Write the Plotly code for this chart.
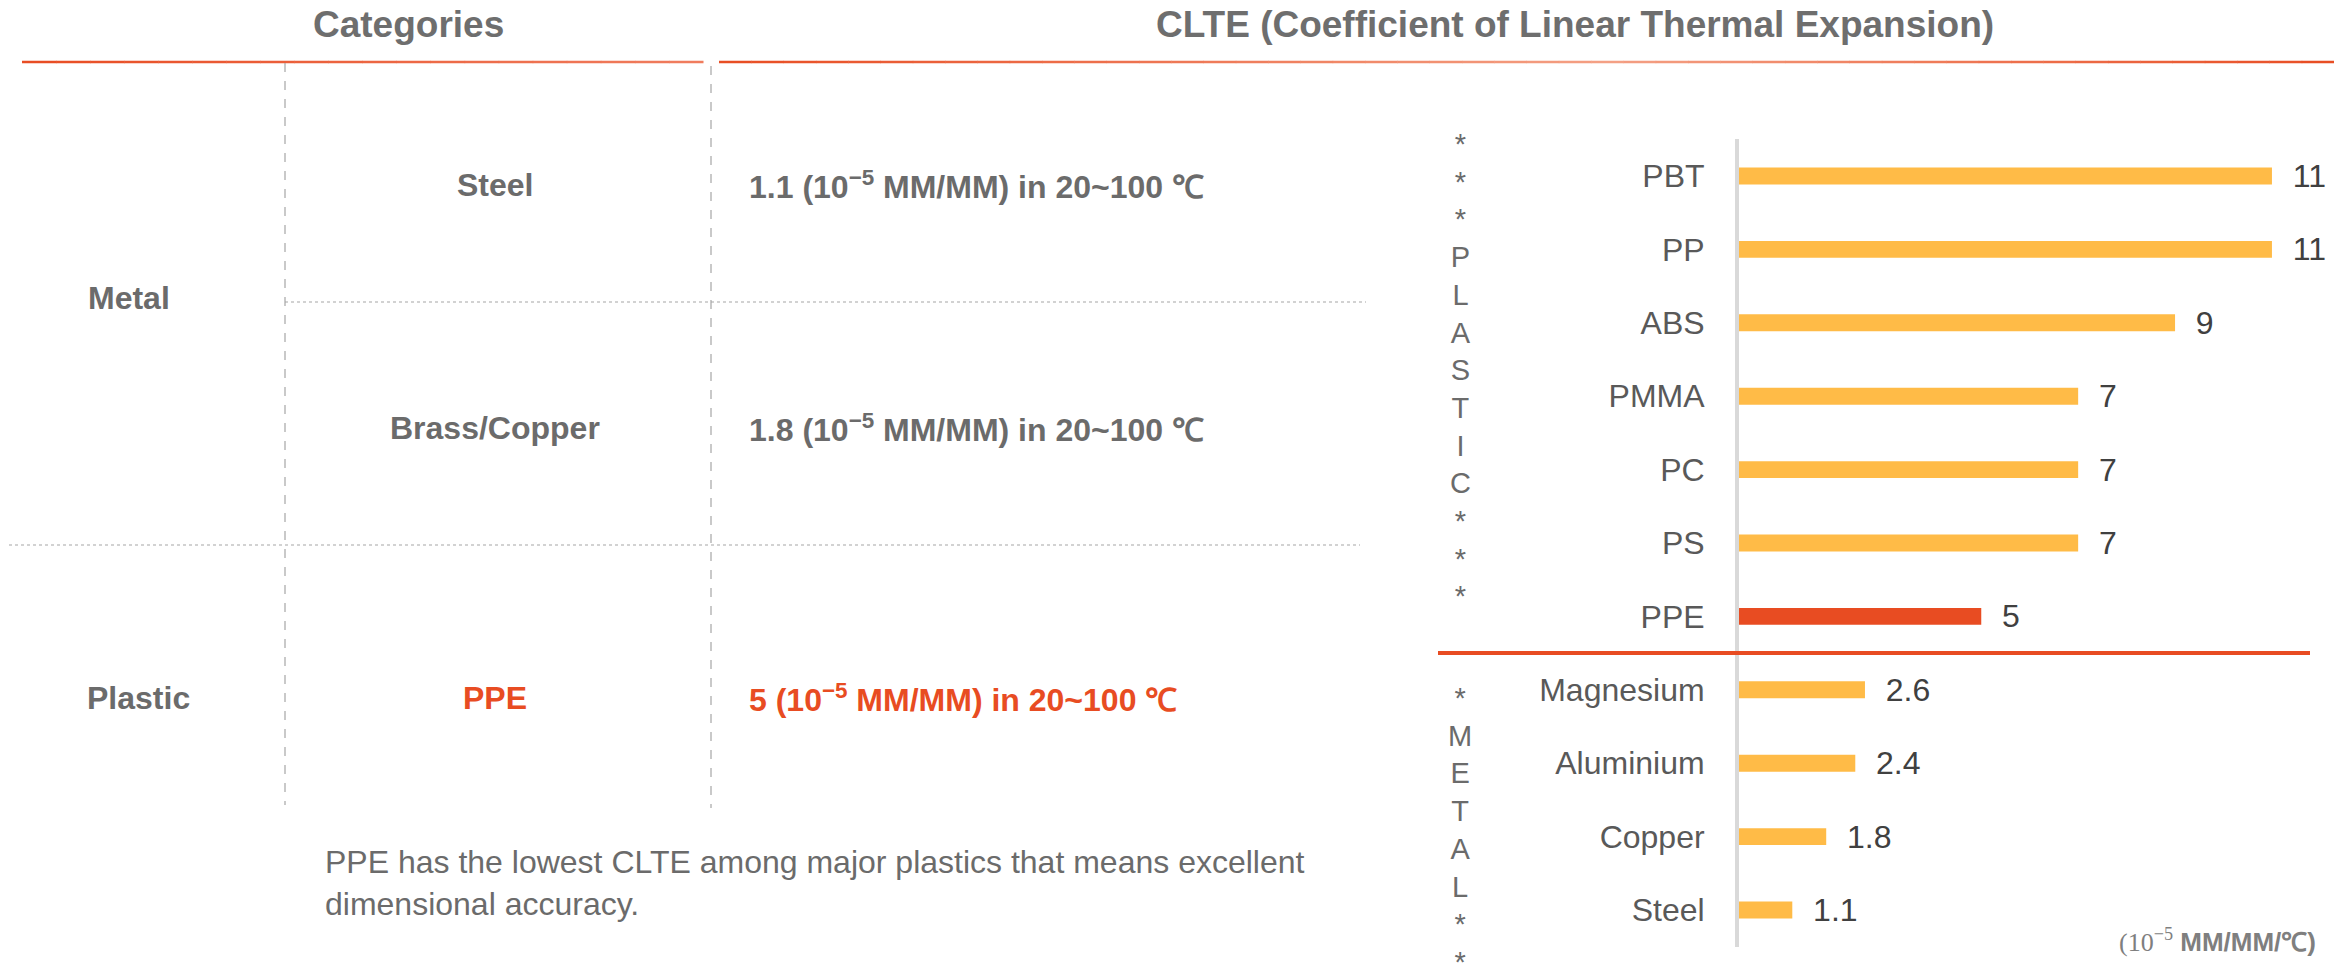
import plotly.graph_objects as go

# ---------------- data ----------------
headers = ["Categories", "CLTE (Coefficient of Linear Thermal Expansion)"]
group_names = ["Metal", "Plastic"]
table_materials = ["Steel", "Brass/Copper", "PPE"]
table_values = [1.1, 1.8, 5]
note_text = ("PPE has the lowest CLTE among major plastics that means excellent<br>"
             "dimensional accuracy.")

chart_materials = ["PBT", "PP", "ABS", "PMMA", "PC", "PS", "PPE",
                   "Magnesium", "Aluminium", "Copper", "Steel"]
chart_values = [11, 11, 9, 7, 7, 7, 5, 2.6, 2.4, 1.8, 1.1]
highlight = "PPE"
side_labels = ["***PLASTIC***", "*METAL**"]

# ---------------- style ----------------
W, H = 2334, 966
RED = "#E84C22"
YELLOW = "#FFBB47"
GRAY = "#6B6B6B"
FONT = "Arial, Liberation Sans, sans-serif"


def px(x):
    return x / W


def py(y):
    return 1 - y / H


fig = go.Figure()

# bar chart
colors = [RED if m == highlight else YELLOW for m in chart_materials]
fig.add_trace(go.Bar(
    x=chart_values, y=chart_materials, orientation="h",
    marker=dict(color=colors, line=dict(width=0)),
    width=0.23,
    text=["\u00a0\u00a0" + f"{v:g}" for v in chart_values],
    textposition="outside", constraintext="none", cliponaxis=False,
    textfont=dict(family=FONT, size=32, color="#404040"),
    hoverinfo="skip",
))

x0_px = 1739
unit_px = 48.45
fig.update_xaxes(domain=[px(x0_px), 1.0], range=[0, (W - x0_px) / unit_px],
                 visible=False, fixedrange=True)
fig.update_yaxes(domain=[py(946.7), py(139.3)], type="category",
                 categoryarray=chart_materials, autorange="reversed",
                 showline=True, linecolor="#D9D9D9", linewidth=4,
                 showgrid=False, zeroline=False, ticks="",
                 ticklabelstandoff=24, fixedrange=True,
                 tickfont=dict(family=FONT, size=32, color="#595959"))

shapes = []
# separator between plastics and metals
sep = chart_materials.index(highlight) + 0.5
shapes.append(dict(type="line", xref="paper", yref="y",
                   x0=px(1438), x1=px(2310), y0=sep, y1=sep,
                   line=dict(color=RED, width=4)))


# header gradient lines
def lerp(c0, c1, t):
    return tuple(round(a + (b - a) * t) for a, b in zip(c0, c1))


def grad_line(xa, xb, y, stops, n=40):
    for i in range(n):
        t0, t1 = i / n, (i + 1) / n
        tm = (t0 + t1) / 2
        for j in range(len(stops) - 1):
            if stops[j][0] <= tm <= stops[j + 1][0]:
                s0, s1 = stops[j], stops[j + 1]
                c = lerp(s0[1], s1[1], (tm - s0[0]) / (s1[0] - s0[0]))
                break
        shapes.append(dict(type="line", xref="paper", yref="paper",
                           x0=px(xa + (xb - xa) * t0), x1=px(xa + (xb - xa) * t1 + 0.5),
                           y0=py(y), y1=py(y),
                           line=dict(color="rgb(%d,%d,%d)" % c, width=2.5)))


red_rgb = (232, 76, 34)
light_rgb = (244, 160, 132)
grad_line(22, 703, 62, [(0, red_rgb), (1, (240, 125, 95))], n=20)
grad_line(719, W, 62, [(0, red_rgb), (0.55, light_rgb), (1, red_rgb)], n=50)

# table dashed lines
dash = dict(color="#A6A6A6", width=1.2, dash="dash")
dot = dict(color="#A6A6A6", width=1.2, dash="dot")
shapes.append(dict(type="line", xref="paper", yref="paper", x0=px(285), x1=px(285),
                   y0=py(63), y1=py(805), line=dash))
shapes.append(dict(type="line", xref="paper", yref="paper", x0=px(711), x1=px(711),
                   y0=py(66), y1=py(808), line=dash))
shapes.append(dict(type="line", xref="paper", yref="paper", x0=px(285), x1=px(1366),
                   y0=py(302), y1=py(302), line=dot))
shapes.append(dict(type="line", xref="paper", yref="paper", x0=px(9), x1=px(1360),
                   y0=py(545), y1=py(545), line=dot))

ann = []


def text(x, y, s, size, color=GRAY, bold=False, xanchor="center", align="center"):
    ann.append(dict(x=px(x), y=py(y), xref="paper", yref="paper", text=s,
                    showarrow=False, xanchor=xanchor, yanchor="middle", align=align,
                    font=dict(family=FONT, size=size, color=color,
                              weight="bold" if bold else "normal")))


# headers
text(408, 25, headers[0], 37, "#6E6E6E", True)
text(1575, 25, headers[1], 37, "#6E6E6E", True)

# table
text(129, 298, group_names[0], 32, GRAY, True)
text(138, 698, group_names[1], 32, GRAY, True)
row_y = [185, 428, 698]
for m, v, y in zip(table_materials, table_values, row_y):
    c = RED if m == highlight else GRAY
    text(495, y, m, 32, c, True)
    text(747, y, f"{v:g} (10<sup>−5</sup> MM/MM) in 20~100 ℃", 32, c, True,
         xanchor="left", align="left")

text(323, 883, note_text, 32, "#6B6B6B", False, xanchor="left", align="left")

# side vertical labels
text(1460, 370, "<br>".join(side_labels[0]), 29, "#6B6B6B")
text(1460, 830, "<br>".join(side_labels[1]), 29, "#6B6B6B")

# unit
ann.append(dict(x=px(2318), y=py(940), xref="paper", yref="paper",
                text='<span style="font-family:Liberation Serif, serif;font-weight:normal">(10<sup>−5</sup></span> <b>MM/MM/℃)</b>',
                showarrow=False, xanchor="right", yanchor="middle",
                font=dict(family=FONT, size=26, color="#7F7F7F")))

fig.update_layout(width=W, height=H, margin=dict(l=0, r=0, t=0, b=0),
                  paper_bgcolor="white", plot_bgcolor="white",
                  showlegend=False, shapes=shapes, annotations=ann)

fig.write_html("out.html", config={"displayModeBar": False},
               post_script="document.body.style.margin='0';document.body.style.overflow='hidden';")
